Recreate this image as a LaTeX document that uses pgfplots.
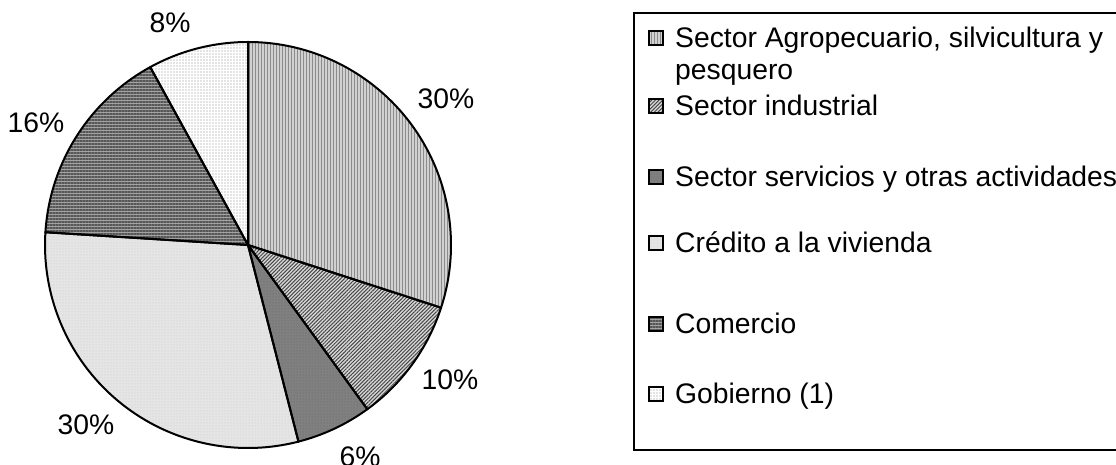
\documentclass[border=0pt]{standalone}
\usepackage{pgfplots}
\pgfplotsset{compat=1.18}
\usepackage{pgfplotstable}
\usetikzlibrary{patterns.meta}
\usepackage{fontspec}
\setmainfont{Liberation Sans}

% slice value (%), label position (px, y from bottom)
\pgfplotstableread{
val lx  ly
30  446 366
10  450 85
6   360 8
30  86  40
16  36  342
8   170 442
}\piedata

\def\pieCum{0}%
\foreach \i in {0,...,5}{%
  \pgfplotstablegetelem{\i}{val}\of\piedata
  \expandafter\xdef\csname pieV\i\endcsname{\pgfplotsretval}%
  \pgfmathsetmacro\tmpA{90-3.6*\pieCum}%
  \pgfmathsetmacro\tmpC{\pieCum+\pgfplotsretval}%
  \pgfmathsetmacro\tmpB{90-3.6*\tmpC}%
  \expandafter\xdef\csname pieSa\i\endcsname{\tmpA}%
  \expandafter\xdef\csname pieEa\i\endcsname{\tmpB}%
  \xdef\pieCum{\tmpC}%
  \pgfplotstablegetelem{\i}{lx}\of\piedata
  \expandafter\xdef\csname pieLx\i\endcsname{\pgfplotsretval}%
  \pgfplotstablegetelem{\i}{ly}\of\piedata
  \expandafter\xdef\csname pieLy\i\endcsname{\pgfplotsretval}%
}%

\tikzset{
 s0/.style={fill=black!18}, p0/.style={pattern={Lines[angle=90,distance=3pt,line width=1pt]}, pattern color=black!45},
 s1/.style={fill=black!15}, p1/.style={pattern={Lines[angle=45,distance=2.6pt,line width=1pt]}, pattern color=black!72},
 s2/.style={fill=black!50}, p2/.style={pattern={Dots[distance=3pt,radius=0.5pt]}, pattern color=black!60},
 s3/.style={fill=black!10}, p3/.style={pattern={Dots[distance=3pt,radius=0.5pt]}, pattern color=black!22},
 s4/.style={fill=black!36}, p4/.style={pattern={Lines[angle=0,distance=3pt,line width=1.2pt]}, pattern color=black!66},
 s5/.style={fill=white},    p5/.style={pattern={Dots[distance=3pt,radius=0.6pt]}, pattern color=black!45},
}
\newcommand\bigf{\fontsize{28.3pt}{34pt}\selectfont}
\newcommand\legmark[2]{%
  \fill[s#1] (axis cs:649,#2-7) rectangle (axis cs:663,#2+7);
  \fill[p#1] (axis cs:649,#2-7) rectangle (axis cs:663,#2+7);
  \draw[line width=1.5pt] (axis cs:649,#2-7) rectangle (axis cs:663,#2+7);
}

\begin{document}
\begin{tikzpicture}
\useasboundingbox (0,0) rectangle (1116pt,465pt);
\clip (0,0) rectangle (1116pt,465pt);
\begin{axis}[
  at={(0,0)}, anchor=south west,
  hide axis, scale only axis,
  x=1pt, y=1pt,
  xmin=0, xmax=1116, ymin=0, ymax=465,
  clip=false,
]
% pie fills
\pgfplotsinvokeforeach{0,...,5}{
  \fill[s#1] (axis cs:248,220) -- ++(\csname pieSa#1\endcsname:203pt)
     arc[start angle=\csname pieSa#1\endcsname, end angle=\csname pieEa#1\endcsname, radius=203pt] -- cycle;
  \fill[p#1] (axis cs:248,220) -- ++(\csname pieSa#1\endcsname:203pt)
     arc[start angle=\csname pieSa#1\endcsname, end angle=\csname pieEa#1\endcsname, radius=203pt] -- cycle;
}
% outlines
\pgfplotsinvokeforeach{0,...,5}{
  \draw[line width=2pt, line join=round] (axis cs:248,220) -- ++(\csname pieSa#1\endcsname:203pt)
     arc[start angle=\csname pieSa#1\endcsname, end angle=\csname pieEa#1\endcsname, radius=203pt] -- cycle;
}
% labels
\pgfplotsinvokeforeach{0,...,5}{
  \node[inner sep=0pt, font=\bigf] at (axis cs:\csname pieLx#1\endcsname,\csname pieLy#1\endcsname) {\csname pieV#1\endcsname\%};
}
% legend box
\draw[line width=2pt] (axis cs:1130,452) -- (axis cs:634,452) -- (axis cs:634,15) -- (axis cs:1130,15);
% legend markers
\legmark{0}{427}
\legmark{1}{359}
\legmark{2}{288}
\legmark{3}{222}
\legmark{4}{141}
\legmark{5}{71}
\node[anchor=base west, inner sep=0pt, font=\bigf] at (axis cs:675,417) {Sector Agropecuario, silvicultura y};
\node[anchor=base west, inner sep=0pt, font=\bigf] at (axis cs:675,385) {pesquero};
\node[anchor=base west, inner sep=0pt, font=\bigf] at (axis cs:675,349) {Sector industrial};
\node[anchor=base west, inner sep=0pt, font=\bigf] at (axis cs:675,278) {Sector servicios y otras actividades};
\node[anchor=base west, inner sep=0pt, font=\bigf] at (axis cs:675,212) {Crédito a la vivienda};
\node[anchor=base west, inner sep=0pt, font=\bigf] at (axis cs:675,131) {Comercio};
\node[anchor=base west, inner sep=0pt, font=\bigf] at (axis cs:675,61) {Gobierno (1)};
\end{axis}
\end{tikzpicture}
\end{document}
